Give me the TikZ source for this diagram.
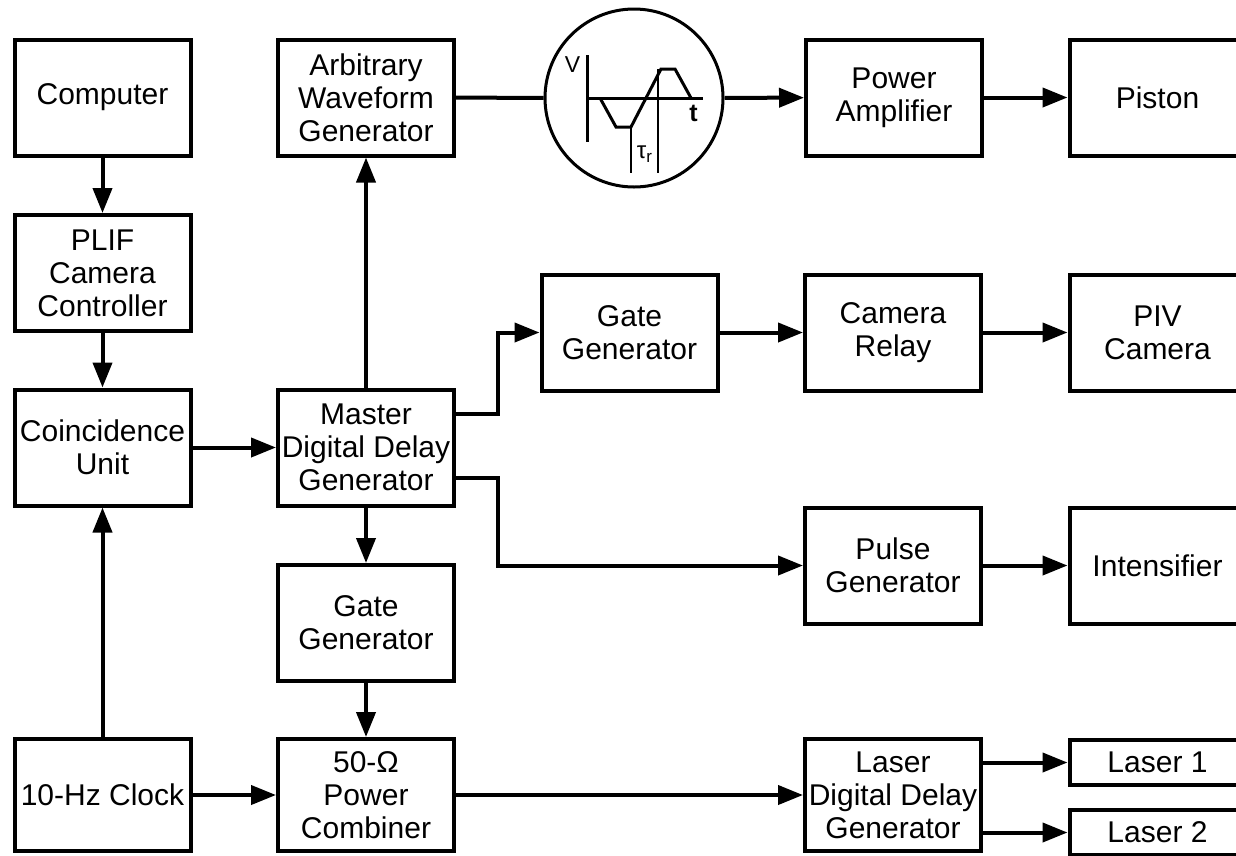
\documentclass[tikz,border=0pt]{standalone}
\usepackage{fontspec}
\setmainfont{Liberation Sans}
\usetikzlibrary{arrows.meta,calc}
\begin{document}
\begin{tikzpicture}[x=1pt,y=-1pt,
 blk/.style={draw,line width=4pt,minimum width=176pt,minimum height=116pt,inner sep=0pt,align=center,font=\fontsize{30}{33}\selectfont},
 conn/.style={line width=4pt},
 arr/.style={conn,-{Triangle[length=25pt,width=19pt]}},
 wline/.style={line width=3pt},
 thin/.style={line width=1.8pt},
]
\useasboundingbox (0,0) rectangle (1236,855);
\clip (0,0) rectangle (1236,855);
\fill[white] (0,0) rectangle (1236,855);

% boxes
\node[blk] (comp) at (102.5,97.5) {Computer};
\node[blk] (arb) at (366,97.5) {Arbitrary\\Waveform\\Generator};
\node[draw,circle,line width=3pt,minimum size=178pt,inner sep=0pt] (wave) at (634,98) {};
\node[blk] (amp) at (894,97.5) {Power\\Amplifier};
\node[blk] (piston) at (1157.5,97.5) {Piston};
\node[blk] (plif) at (102.5,273) {PLIF\\Camera\\Controller};
\node[blk] (gate1) at (629.5,332.5) {Gate\\Generator};
\node[blk] (relay) at (893,332.5) {Camera\\Relay};
\node[blk] (piv) at (1157.5,332.5) {PIV\\Camera};
\node[blk] (coinc) at (102.5,447.5) {Coincidence\\Unit};
\node[blk] (master) at (366,447.5) {Master\\Digital Delay\\Generator};
\node[blk] (pulse) at (893,565.5) {Pulse\\Generator};
\node[blk] (intens) at (1157.5,565.5) {Intensifier};
\node[blk] (gate2) at (366,623) {Gate\\Generator};
\node[blk,minimum height=112pt] (clock) at (102.5,795) {10-Hz Clock};
\node[blk,minimum height=112pt] (comb) at (366,795) {50-Ω\\Power\\Combiner};
\node[blk,minimum height=112pt] (ddg) at (893,795) {Laser\\Digital Delay\\Generator};
\node[blk,minimum height=45pt] (l1) at (1157.5,762.5) {Laser 1};
\node[blk,minimum height=45pt] (l2) at (1157.5,832.5) {Laser 2};

% waveform inside circle
\draw[wline] (587,55) -- (587,142);
\draw[wline] (587,98) -- (703,98);
\draw[wline,line join=miter] (600,98) -- (616,127) -- (631,127) -- (661,69) -- (675,69) -- (691,98);
\draw[thin] (631,127) -- (631,173);
\draw[thin] (658,69) -- (658,173);
\node[anchor=base,inner sep=0pt,font=\fontsize{23}{23}\selectfont] (vlab) at (572.5,72) {V};
\node[anchor=base,inner sep=0pt,font=\bfseries\fontsize{25}{25}\selectfont] (tlab) at (693.5,121) {t};
\node[anchor=base,inner sep=0pt,font=\fontsize{24}{24}\selectfont] (taulab) at (644.5,158) {τ\raisebox{-4pt}{\fontsize{17}{17}\selectfont r}};

% connectors
\coordinate (bx) at (498,0);
\draw[arr] (comp) -- (plif);
\draw[arr] (plif) -- (coinc);
\draw[arr] (clock) -- (coinc);
\draw[arr] (coinc) -- (master);
\draw[arr] (master) -- (arb);
\draw[arr] (master) -- (gate2);
\draw[arr] (gate2) -- (comb);
\draw[arr] (clock) -- (comb);
\draw[arr] (comb) -- (ddg);
\draw[conn] (arb) -- (wave);
\draw[arr] (wave) -- (amp);
\draw[arr] (amp) -- (piston);
\draw[arr] (gate1) -- (relay);
\draw[arr] (relay) -- (piv);
\draw[arr] (pulse) -- (intens);
\draw[arr] ([yshift=34pt]master.east) -| (bx |- gate1.west) -- (gate1.west);
\draw[arr] ([yshift=-30pt]master.east) -| (bx |- pulse.west) -- (pulse.west);
\draw[arr] (ddg.east |- l1.west) -- (l1.west);
\draw[arr] (ddg.east |- l2.west) -- (l2.west);
\end{tikzpicture}
\end{document}
